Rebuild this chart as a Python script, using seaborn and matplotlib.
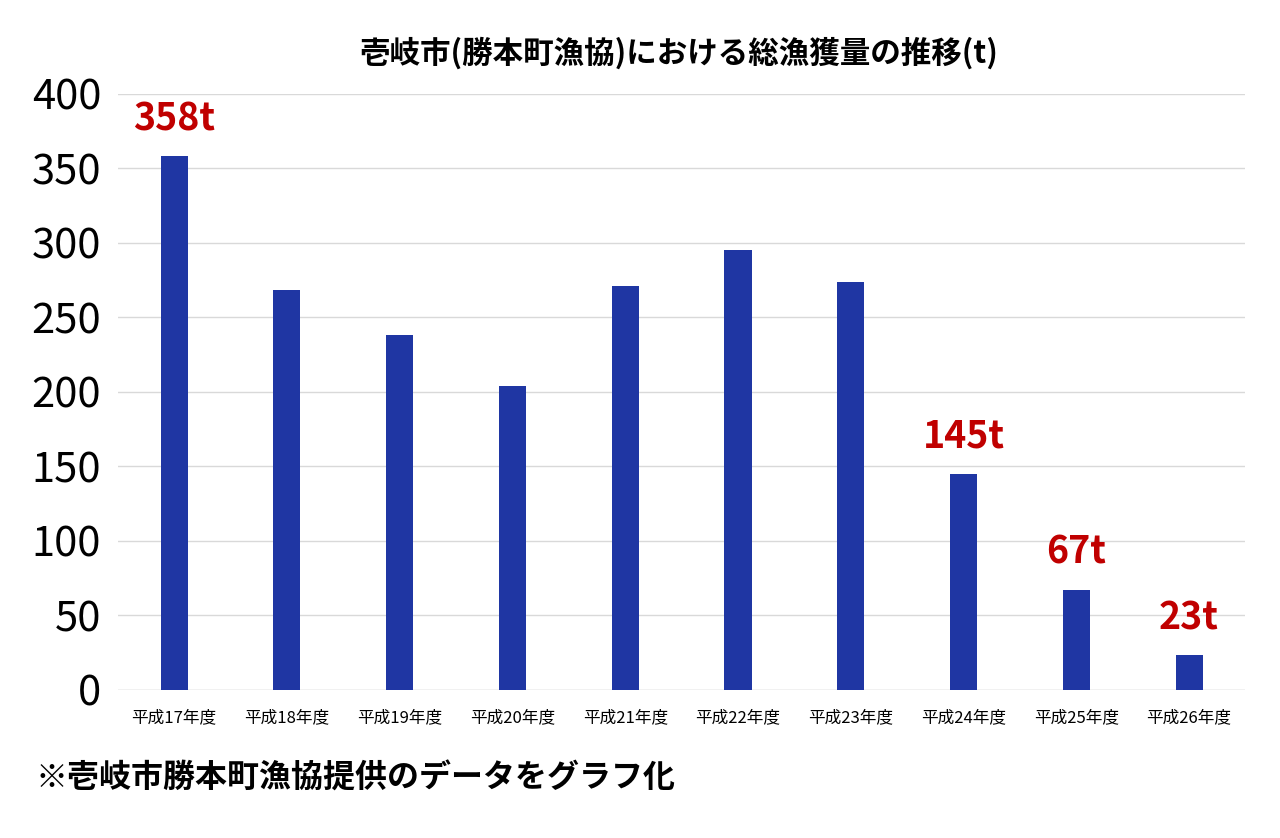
import matplotlib
matplotlib.use("Agg")
import matplotlib.pyplot as plt
import seaborn as sns
import pandas as pd

years = ["平成17年度","平成18年度","平成19年度","平成20年度","平成21年度",
         "平成22年度","平成23年度","平成24年度","平成25年度","平成26年度"]
catch = [358, 268, 238, 204, 271, 295, 274, 145, 67, 23]
labeled = {0: "358t", 7: "145t", 8: "67t", 9: "23t"}
yticks = [0, 50, 100, 150, 200, 250, 300, 350, 400]

plt.rcParams["font.family"] = "Noto Sans CJK JP"
df = pd.DataFrame({"year": years, "catch": catch})

fig = plt.figure(figsize=(12.8, 8.38), dpi=100)
ax = fig.add_axes([0.092, 0.177, 0.881, 0.711])
sns.barplot(data=df, x="year", y="catch", color="#1f36a3", width=0.24,
            saturation=1, ax=ax, zorder=3)
ax.set_ylim(0, 400)
ax.set_xlim(-0.5, 9.5)
ax.set_yticks(yticks)
ax.set_yticklabels([str(t) for t in yticks], fontsize=30, fontstretch="condensed")
ax.tick_params(axis="x", labelsize=12, length=0, pad=14)
ax.tick_params(axis="y", length=0, pad=12)
ax.yaxis.grid(True, color="#d9d9d9", linewidth=1, zorder=0)
for s in ax.spines.values():
    s.set_visible(False)
ax.axhline(0, color="#d9d9d9", linewidth=1)
ax.set_xlabel("")
ax.set_ylabel("")
for i, txt in labeled.items():
    ax.text(i, catch[i] + 12, txt, ha="center", va="bottom", fontsize=27,
            fontweight="bold", color="#c00000")
fig.text(0.53, 0.925, "壱岐市(勝本町漁協)における総漁獲量の推移(t)", ha="center",
         fontsize=22, fontweight="bold")
fig.text(0.028, 0.06, "※壱岐市勝本町漁協提供のデータをグラフ化", ha="left",
         fontsize=23, fontweight="bold")
fig.savefig("out.png", dpi=100)
